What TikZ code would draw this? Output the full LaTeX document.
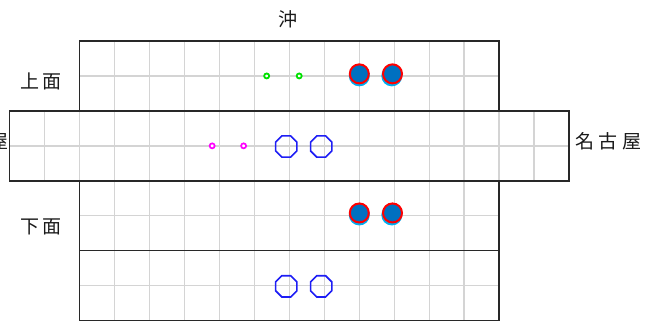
\documentclass[tikz,border=0pt]{standalone}
\usepackage{fontspec}
\newfontfamily\jp{Noto Sans CJK JP}
\usetikzlibrary{shapes.geometric}
\definecolor{fillblue}{RGB}{0,112,192}
\definecolor{octblue}{RGB}{30,30,245}
\definecolor{gridgray}{RGB}{212,212,212}
\definecolor{boxline}{RGB}{40,40,40}
\definecolor{greenring}{RGB}{0,225,0}
\definecolor{pinkring}{RGB}{255,0,255}
\begin{document}
\begin{tikzpicture}[x=34.95pt,y=-34.95pt,
  gridline/.style={draw=gridgray, line width=1.4pt},
  boxframe/.style={draw=boxline, line width=1.4pt},
  stone/.style={circle, inner sep=0pt, minimum size=19pt, fill=fillblue, draw=red, line width=2pt},
  shade/.style={circle, inner sep=0pt, minimum size=21pt, fill=cyan},
  octa/.style={regular polygon, regular polygon sides=8, inner sep=0pt, minimum size=23pt, draw=octblue, line width=1.6pt},
  greenmark/.style={circle, inner sep=0pt, minimum size=5pt, draw=greenring, fill=white, line width=1.8pt},
  pinkmark/.style={circle, inner sep=0pt, minimum size=5pt, draw=pinkring, fill=white, line width=1.7pt},
  lbl/.style={font=\jp\fontsize{19pt}{22pt}\selectfont, text=black!90},
]
\useasboundingbox (-2.2804,-1.1731) rectangle (16.5751,8.1259);
% grid
\foreach \i in {1,...,11} \draw[gridline] (\i,0) -- (\i,8);
\foreach \i in {-1,0,12,13} \draw[gridline] (\i,2) -- (\i,4);
\foreach \j in {1,5,7} \draw[gridline] (0,\j) -- (12,\j);
\draw[gridline] (-2,3) -- (14,3);
% frames
\draw[boxframe] (0,0) rectangle (12,2);
\draw[boxframe] (-2,2) rectangle (14,4);
\draw[boxframe] (0,4) rectangle (12,6);
\draw[boxframe] (0,6) rectangle (12,8);
% labels
\node[lbl] (oki) at (5.946,-0.635) {沖};
\node[lbl] (top) at (-1.107,1.153) {上\kern3pt面};
\node[lbl] (bottom) at (-1.107,5.32) {下\kern3pt面};
\node[lbl, anchor=west, inner sep=0pt, xshift=6pt] (nagoyaR) at (14,2.86) {名\kern4.5pt古\kern4.5pt屋};
\node[lbl, anchor=east, inner sep=1pt] (nagoyaL) at (-2,2.86) {名\kern4.5pt古\kern4.5pt屋};
% small marks
\node[greenmark] (g1) at (5.35,1) {};
\node[greenmark] (g2) at (6.28,1) {};
\node[pinkmark] (p1) at (3.79,3) {};
\node[pinkmark] (p2) at (4.69,3) {};
% octagons
\node[octa] (o1) at (5.91,3.02) {};
\node[octa] (o2) at (6.91,3.02) {};
\node[octa] (o3) at (5.91,7.02) {};
\node[octa] (o4) at (6.91,7.02) {};
% stones with shadow
\node[shade, yshift=-2pt] (s1b) at (8,0.94) {};
\node[shade, yshift=-2pt, xshift=-0.7pt] (s2b) at (8.95,0.94) {};
\node[shade, yshift=-2pt] (s3b) at (8,4.92) {};
\node[shade, yshift=-2pt, xshift=-0.7pt] (s4b) at (8.95,4.92) {};
\node[stone] (s1) at (8,0.94) {};
\node[stone] (s2) at (8.95,0.94) {};
\node[stone] (s3) at (8,4.92) {};
\node[stone] (s4) at (8.95,4.92) {};
\end{tikzpicture}
\end{document}
